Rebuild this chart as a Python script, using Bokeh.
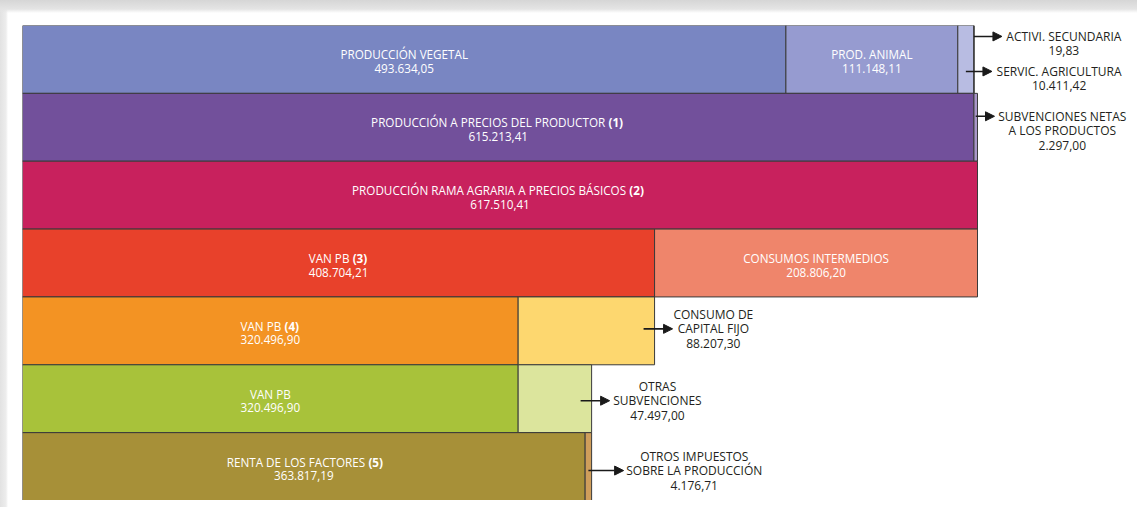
from bokeh.plotting import figure
from bokeh.models import Range1d, ColumnDataSource, Arrow, NormalHead
from bokeh.core.properties import value
from bokeh.embed import file_html
from bokeh.resources import INLINE

# ---------------- data ----------------
seg_row = [0, 0, 0, 0, 1, 1, 2, 3, 3, 4, 4, 5, 5, 6, 6]
seg_name = [
    "PRODUCCIÓN VEGETAL", "PROD. ANIMAL", "SERVIC. AGRICULTURA", "ACTIVI. SECUNDARIA",
    "PRODUCCIÓN A PRECIOS DEL PRODUCTOR", "SUBVENCIONES NETAS\nA LOS PRODUCTOS",
    "PRODUCCIÓN RAMA AGRARIA A PRECIOS BÁSICOS",
    "VAN PB", "CONSUMOS INTERMEDIOS",
    "VAN PB", "CONSUMO DE\nCAPITAL FIJO",
    "VAN PB", "OTRAS\nSUBVENCIONES",
    "RENTA DE LOS FACTORES", "OTROS IMPUESTOS\nSOBRE LA PRODUCCIÓN",
]
seg_note = ["", "", "", "", "(1)", "", "(2)", "(3)", "", "(4)", "", "", "", "(5)", ""]
seg_value = [493634.05, 111148.11, 10411.42, 19.83,
             615213.41, 2297.00,
             617510.41,
             408704.21, 208806.20,
             320496.90, 88207.30,
             320496.90, 47497.00,
             363817.19, 4176.71]
seg_inside = [True, True, False, False, True, False, True, True, True,
              True, False, True, False, True, False]

# ---------------- styles ----------------
seg_color = ["#7986c2", "#969bd0", "#b8bce2", "#a3adc5",
             "#72509b", "#a996c8",
             "#c8215d",
             "#e8412b", "#ef856b",
             "#f39323", "#fdd76f",
             "#a8c23a", "#dce59d",
             "#a79038", "#cf9e5b"]
# outside call-outs: segment index -> (arrow dy px from row centre, aligned line, tip gap px)
callouts = {3: (-23, 0, 28), 2: (12, 0, 18), 5: (-11, 0, 17),
            10: (-2, 1, 18), 12: (2, 1, 18), 14: (4, 1, 32)}

FONT = "Open Sans"
FS_IN = 11.7
FS_OUT = 12
W, H = 1135, 500
LEFT, TOP = 22, 25
FRAME_W = W - LEFT
FRAME_H = H - TOP
BAR_PX = 955
NROWS = 7


def fmt(v):
    s = f"{v:,.2f}"
    return s.replace(",", "X").replace(".", ",").replace("X", ".")


def est(s, fs):
    w = 0.0
    for ch in s:
        if ch in " .,":
            w += 3.0
        elif ch in "I()J":
            w += 3.4
        elif ch.isdigit():
            w += 6.3
        elif ch in "MW":
            w += 9.8
        elif ch in "OÓQGCDNUH":
            w += 7.6
        else:
            w += 6.5
    return w * fs / 11.0


# positions
row_tot = {}
seg_left = []
for r, v in zip(seg_row, seg_value):
    l = row_tot.get(r, 0.0)
    seg_left.append(l)
    row_tot[r] = l + v
seg_right = [l + v for l, v in zip(seg_left, seg_value)]

xmax = max(row_tot.values()) * FRAME_W / BAR_PX
pxx = xmax / FRAME_W
pxy = NROWS / FRAME_H

p = figure(width=W, height=H, x_range=Range1d(0, xmax), y_range=Range1d(NROWS, 0),
           output_backend="svg", toolbar_location=None,
           x_axis_location=None, y_axis_location=None,
           min_border_left=LEFT, min_border_top=TOP, min_border_right=0, min_border_bottom=0)
p.grid.visible = False
p.outline_line_color = None
p.border_fill_color = None
p.background_fill_color = None

src = ColumnDataSource(dict(y=[r + 0.5 for r in seg_row], left=seg_left, right=seg_right,
                            color=seg_color))
p.hbar(y="y", left="left", right="right", height=1, fill_color="color",
       line_color="#3a3a3a", line_width=1, source=src)

# inside labels
n_x, n_y, n_t = [], [], []
r_x, r_y, r_t, r_off = [], [], [], []
b_x, b_y, b_t, b_off = [], [], [], []
v_x, v_y, v_t = [], [], []
for i in range(len(seg_value)):
    if not seg_inside[i]:
        continue
    cx = (seg_left[i] + seg_right[i]) / 2
    cy = seg_row[i] + 0.5
    v_x.append(cx); v_y.append(cy); v_t.append(fmt(seg_value[i]))
    if seg_note[i]:
        w1 = est(seg_name[i], FS_IN); ws = 3.2; w2 = est(seg_note[i], FS_IN)
        split = -(w1 + ws + w2) / 2 + w1
        r_x.append(cx); r_y.append(cy); r_t.append(seg_name[i]); r_off.append(split)
        b_x.append(cx); b_y.append(cy); b_t.append(seg_note[i]); b_off.append(split + ws)
    else:
        n_x.append(cx); n_y.append(cy); n_t.append(seg_name[i])

common = dict(text_font=value(FONT), text_font_size=f"{FS_IN}px", text_color="#ffffff",
              text_baseline="middle")
p.text(x=n_x, y=n_y, text=n_t, text_align="center", y_offset=-5, **common)
p.text(x=r_x, y=r_y, text=r_t, text_align="right", x_offset=r_off, y_offset=-5, **common)
p.text(x=b_x, y=b_y, text=b_t, text_align="left", x_offset=b_off, y_offset=-5,
       text_font_style="bold", **common)
p.text(x=v_x, y=v_y, text=v_t, text_align="center", y_offset=9, **common)

# outside call-outs
LINE = 14.5
o_x, o_y, o_t, o_dy = [], [], [], []
for i, (dy, al, gap) in callouts.items():
    r = seg_row[i]
    end = row_tot[r] if i in (2, 3) else seg_right[i]
    seg_w_px = (seg_right[i] - seg_left[i]) / pxx
    xs = seg_right[i] - min(max(seg_w_px / 2, 0), 11) * pxx
    xe = end + gap * pxx
    ya = r + 0.5 + dy * pxy
    p.add_layout(Arrow(end=NormalHead(size=9, fill_color="#1a1a1a", line_color="#1a1a1a",
                                      line_width=1),
                       x_start=xs, y_start=ya, x_end=xe, y_end=ya,
                       line_color="#1a1a1a", line_width=1.6))
    lines = seg_name[i].split("\n") + [fmt(seg_value[i])]
    cxl = xe + (4 + est(lines[al], FS_OUT) / 2) * pxx
    for k, t in enumerate(lines):
        o_x.append(cxl); o_y.append(ya); o_t.append(t); o_dy.append((k - al) * LINE)

p.text(x=o_x, y=o_y, text=o_t, y_offset=o_dy, text_align="center", text_baseline="middle",
       text_font=value(FONT), text_font_size=f"{FS_OUT}px", text_color="#231f20")

html = file_html(p, INLINE)
style = ("<style>body{background:"
         "linear-gradient(to bottom,#d6d6d6 0px,#e4e4e4 9px,rgba(255,255,255,0) 13px),"
         "linear-gradient(to right,#e2e2e2 0px,#ededed 6px,#ffffff 8px);"
         "background-repeat:no-repeat;}</style></head>")
html = html.replace("</head>", style, 1)
open("out.html", "w").write(html)
